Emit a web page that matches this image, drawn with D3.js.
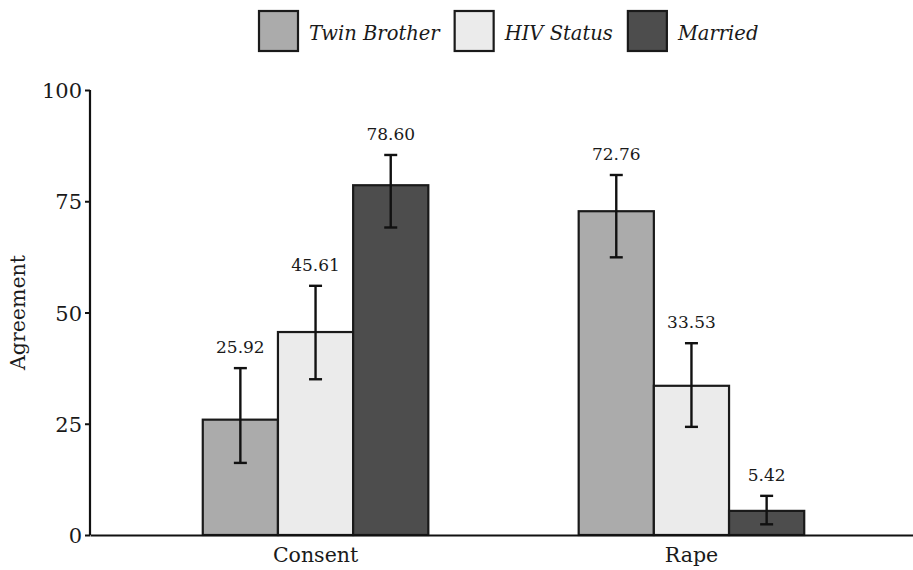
<!DOCTYPE html>
<html>
<head>
<meta charset="utf-8">
<script src="https://cdn.jsdelivr.net/npm/d3@7"></script>
<style>
  body { margin: 0; background: #fff; }
  svg text { font-family: "DejaVu Serif", "Liberation Serif", serif; fill: #1a1a1a; }
</style>
</head>
<body>
<div id="chart"></div>
<script>
// data
var categories = ["Consent", "Rape"];
var seriesNames = ["Twin Brother", "HIV Status", "Married"];
var seriesColors = ["#ababab", "#ebebeb", "#4d4d4d"];
var consentValues = [25.92, 45.61, 78.60];
var consentLow = [16.2, 35.0, 69.1];
var consentHigh = [37.5, 56.0, 85.4];
var rapeValues = [72.76, 33.53, 5.42];
var rapeLow = [62.4, 24.3, 2.4];
var rapeHigh = [80.9, 43.1, 8.8];
var yTicks = [0, 25, 50, 75, 100];

var svgWidth = 913, svgHeight = 570;
var margin = { top: 90, right: -4, bottom: 35, left: 90 };
var height = svgHeight - margin.top - margin.bottom;
var width = svgWidth - margin.left - margin.right;

var svg = d3.select("#chart").append("svg")
  .attr("width", svgWidth)
  .attr("height", svgHeight);

// build rows
var rows = [];
categories.forEach(function(cat, ci) {
  var vals = ci === 0 ? consentValues : rapeValues;
  var lo = ci === 0 ? consentLow : rapeLow;
  var hi = ci === 0 ? consentHigh : rapeHigh;
  seriesNames.forEach(function(s, si) {
    rows.push({ cat: cat, series: s, color: seriesColors[si], value: vals[si], low: lo[si], high: hi[si] });
  });
});

var chart = svg.append("g").attr("transform", `translate(${margin.left}, ${margin.top})`);

var x0 = d3.scaleBand()
  .domain(categories)
  .range([0, width])
  .paddingInner(0.4)
  .paddingOuter(0.3);

var x1 = d3.scaleBand()
  .domain(seriesNames)
  .range([0, x0.bandwidth()]);

var y = d3.scaleLinear()
  .domain([0, 100])
  .range([height, 0]);

// bars
chart.selectAll("rect.bar")
  .data(rows)
  .enter()
  .append("rect")
  .attr("class", "bar")
  .attr("x", d => x0(d.cat) + x1(d.series))
  .attr("y", d => y(d.value))
  .attr("width", x1.bandwidth())
  .attr("height", d => y(0) - y(d.value))
  .attr("fill", d => d.color)
  .attr("stroke", "#1a1a1a")
  .attr("stroke-width", 2.2);

// error bars
var cx = d => x0(d.cat) + x1(d.series) + x1.bandwidth() / 2;
var err = chart.selectAll("g.err").data(rows).enter().append("g")
  .attr("stroke", "#111").attr("stroke-width", 2.4);
err.append("line").attr("x1", cx).attr("x2", cx).attr("y1", d => y(d.low)).attr("y2", d => y(d.high));
err.append("line").attr("x1", d => cx(d) - 6.5).attr("x2", d => cx(d) + 6.5).attr("y1", d => y(d.low)).attr("y2", d => y(d.low));
err.append("line").attr("x1", d => cx(d) - 6.5).attr("x2", d => cx(d) + 6.5).attr("y1", d => y(d.high)).attr("y2", d => y(d.high));

// value labels
chart.selectAll("text.val").data(rows).enter().append("text")
  .attr("class", "val")
  .attr("x", cx)
  .attr("y", d => y(d.high) - 15)
  .attr("text-anchor", "middle")
  .style("font-size", "17px")
  .text(d => d.value.toFixed(2));

// axes
var yAxis = chart.append("g")
  .call(d3.axisLeft(y).tickValues(yTicks).tickSize(5).tickPadding(3));
yAxis.select(".domain").attr("stroke", "#111").attr("stroke-width", 2.2).attr("d", `M0,${y(100)}V${y(0)}`);
yAxis.selectAll(".tick line").attr("stroke", "#111").attr("stroke-width", 2);
yAxis.selectAll(".tick text").style("font-size", "21px").attr("fill", "#1a1a1a").attr("dy", "0.36em");

var xAxis = chart.append("g")
  .attr("transform", `translate(0, ${height})`)
  .call(d3.axisBottom(x0).tickSize(0).tickPadding(12));
xAxis.select(".domain").attr("stroke", "#111").attr("stroke-width", 2.2);
xAxis.selectAll(".tick text").style("font-size", "20.5px").attr("fill", "#1a1a1a");

// y label
chart.append("text")
  .attr("transform", "rotate(-90)")
  .attr("x", -height / 2)
  .attr("y", -72)
  .attr("dy", "0.35em")
  .attr("text-anchor", "middle")
  .style("font-size", "20.5px")
  .text("Agreement");

// legend
var legend = svg.append("g").attr("transform", "translate(258, 10)");
var lx = 0;
seriesNames.forEach(function(s, i) {
  var item = legend.append("g").attr("transform", `translate(${lx}, 0)`);
  item.append("rect")
    .attr("x", 1).attr("y", 1).attr("width", 39).attr("height", 40)
    .attr("fill", seriesColors[i]).attr("stroke", "#1a1a1a").attr("stroke-width", 2.2);
  var t = item.append("text")
    .attr("x", 51).attr("y", 30)
    .style("font-size", "19.5px").style("font-style", "italic")
    .text(s);
  lx += 51 + t.node().getComputedTextLength() + 14;
});
</script>
</body>
</html>
